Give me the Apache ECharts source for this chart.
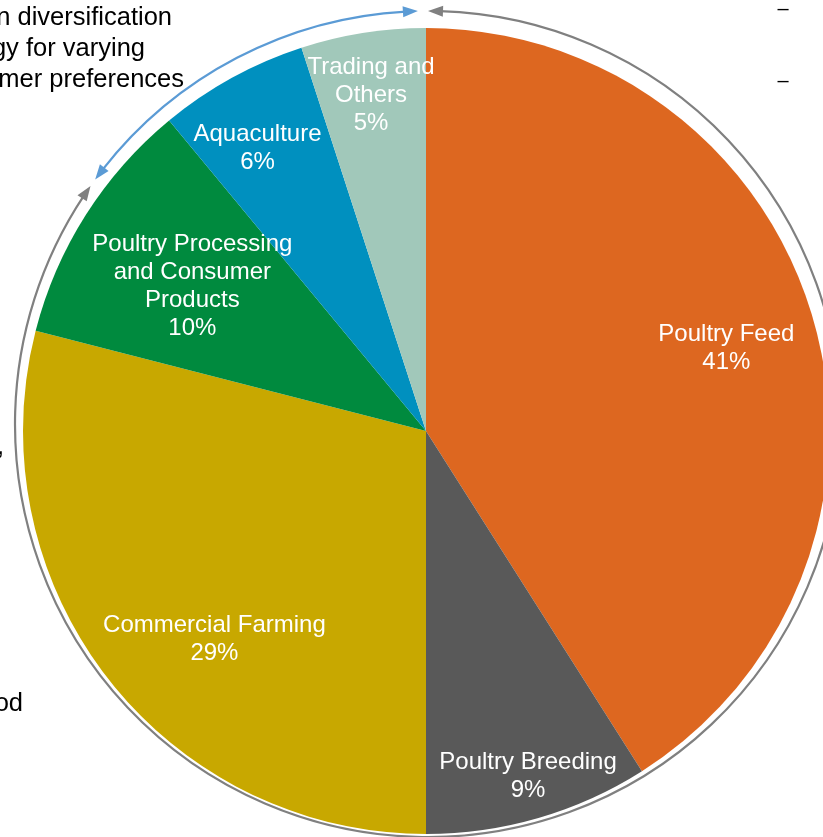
<!DOCTYPE html>
<html><head><meta charset="utf-8">
<script src="https://cdn.jsdelivr.net/npm/echarts@6/dist/echarts.min.js"></script>
<style>html,body{margin:0;padding:0;background:#fff;}#c{width:823px;height:837px;}</style>
</head><body><div id="c"></div>
<script>
// ---- data ----
const categories = ['Poultry Feed', 'Poultry Breeding', 'Commercial Farming',
  'Poultry Processing\nand Consumer\nProducts', 'Aquaculture', 'Trading and\nOthers'];
const shares = [41, 9, 29, 10, 6, 5];
const sideTexts = ['n diversification', 'gy for varying', 'mer preferences', ',', 'od', '–', '–'];

// ---- styles / layout ----
const sliceColors = ['#DD6720', '#595959', '#C8A800', '#008A3E', '#0090BF', '#A1C8BA'];
const labelNudges = [[104, -26], [45, 149], [-50, 83], [-61, -35], [-70, -103], [-23, -134]];
const sideTextPos = [[172, 18, 'right', 25.5], [145, 49, 'right', 25.5], [184, 80, 'right', 25.5],
  [4, 447, 'right', 25.5], [23, 704, 'right', 25.5], [783, 9, 'center', 20], [783, 81, 'center', 20]];
const PIE_C = [426, 431], PIE_R = 403;
const AC = [428, 424], AR = 413;
const FONT = '"Liberation Sans", Arial, sans-serif';

const deg = d => d * Math.PI / 180;
function arcEl(a0, a1, color) {
  return { type: 'arc', silent: true,
    shape: { cx: AC[0], cy: AC[1], r: AR, startAngle: deg(a0), endAngle: deg(a1), clockwise: true },
    style: { stroke: color, lineWidth: 2.2, fill: null } };
}
function arrowEl(tipDeg, dir, color) {
  const t = deg(tipDeg), len = 15, half = 5.5;
  const tip = [AC[0] + AR * Math.cos(t), AC[1] + AR * Math.sin(t)];
  const b = t - dir * len / AR;
  const base = [AC[0] + AR * Math.cos(b), AC[1] + AR * Math.sin(b)];
  const rx = Math.cos(b), ry = Math.sin(b);
  return { type: 'polygon', silent: true,
    shape: { points: [tip, [base[0] + rx * half, base[1] + ry * half], [base[0] - rx * half, base[1] - ry * half]] },
    style: { fill: color } };
}
const shortDeg = 12 / AR * 180 / Math.PI;
const GRAY = '#808080', BLUE = '#5B9BD5';
const graphics = [
  arcEl(-90 + shortDeg, 215.2 - shortDeg, GRAY),
  arrowEl(-90, -1, GRAY), arrowEl(215.2, 1, GRAY),
  arcEl(216.3 + shortDeg, 268.6 - shortDeg, BLUE),
  arrowEl(216.3, -1, BLUE), arrowEl(268.6, 1, BLUE)
];
sideTexts.forEach((t, i) => {
  const p = sideTextPos[i];
  graphics.push({ type: 'text', silent: true, x: p[0], y: p[1],
    style: { text: t, font: p[3] + 'px ' + FONT, fill: '#000',
      align: p[2], verticalAlign: 'middle', textAlign: p[2], textVerticalAlign: 'middle' } });
});

const chart = echarts.init(document.getElementById('c'), null, { renderer: 'canvas' });
chart.setOption({
  animation: false,
  backgroundColor: '#fff',
  graphic: graphics,
  series: [{
    type: 'pie',
    center: PIE_C,
    radius: [0, PIE_R],
    startAngle: 90,
    clockwise: true,
    avoidLabelOverlap: false,
    emphasis: { disabled: true },
    itemStyle: { borderWidth: 0 },
    data: categories.map((n, i) => ({ name: n, value: shares[i], itemStyle: { color: sliceColors[i] } })),
    label: {
      show: true, position: 'inside', color: '#fff',
      fontFamily: FONT, fontSize: 24, lineHeight: 28, align: 'center',
      formatter: p => p.name + '\n' + p.value + '%'
    },
    labelLine: { show: false },
    labelLayout: p => ({ dx: labelNudges[p.dataIndex][0], dy: labelNudges[p.dataIndex][1] })
  }]
});
</script></body></html>
